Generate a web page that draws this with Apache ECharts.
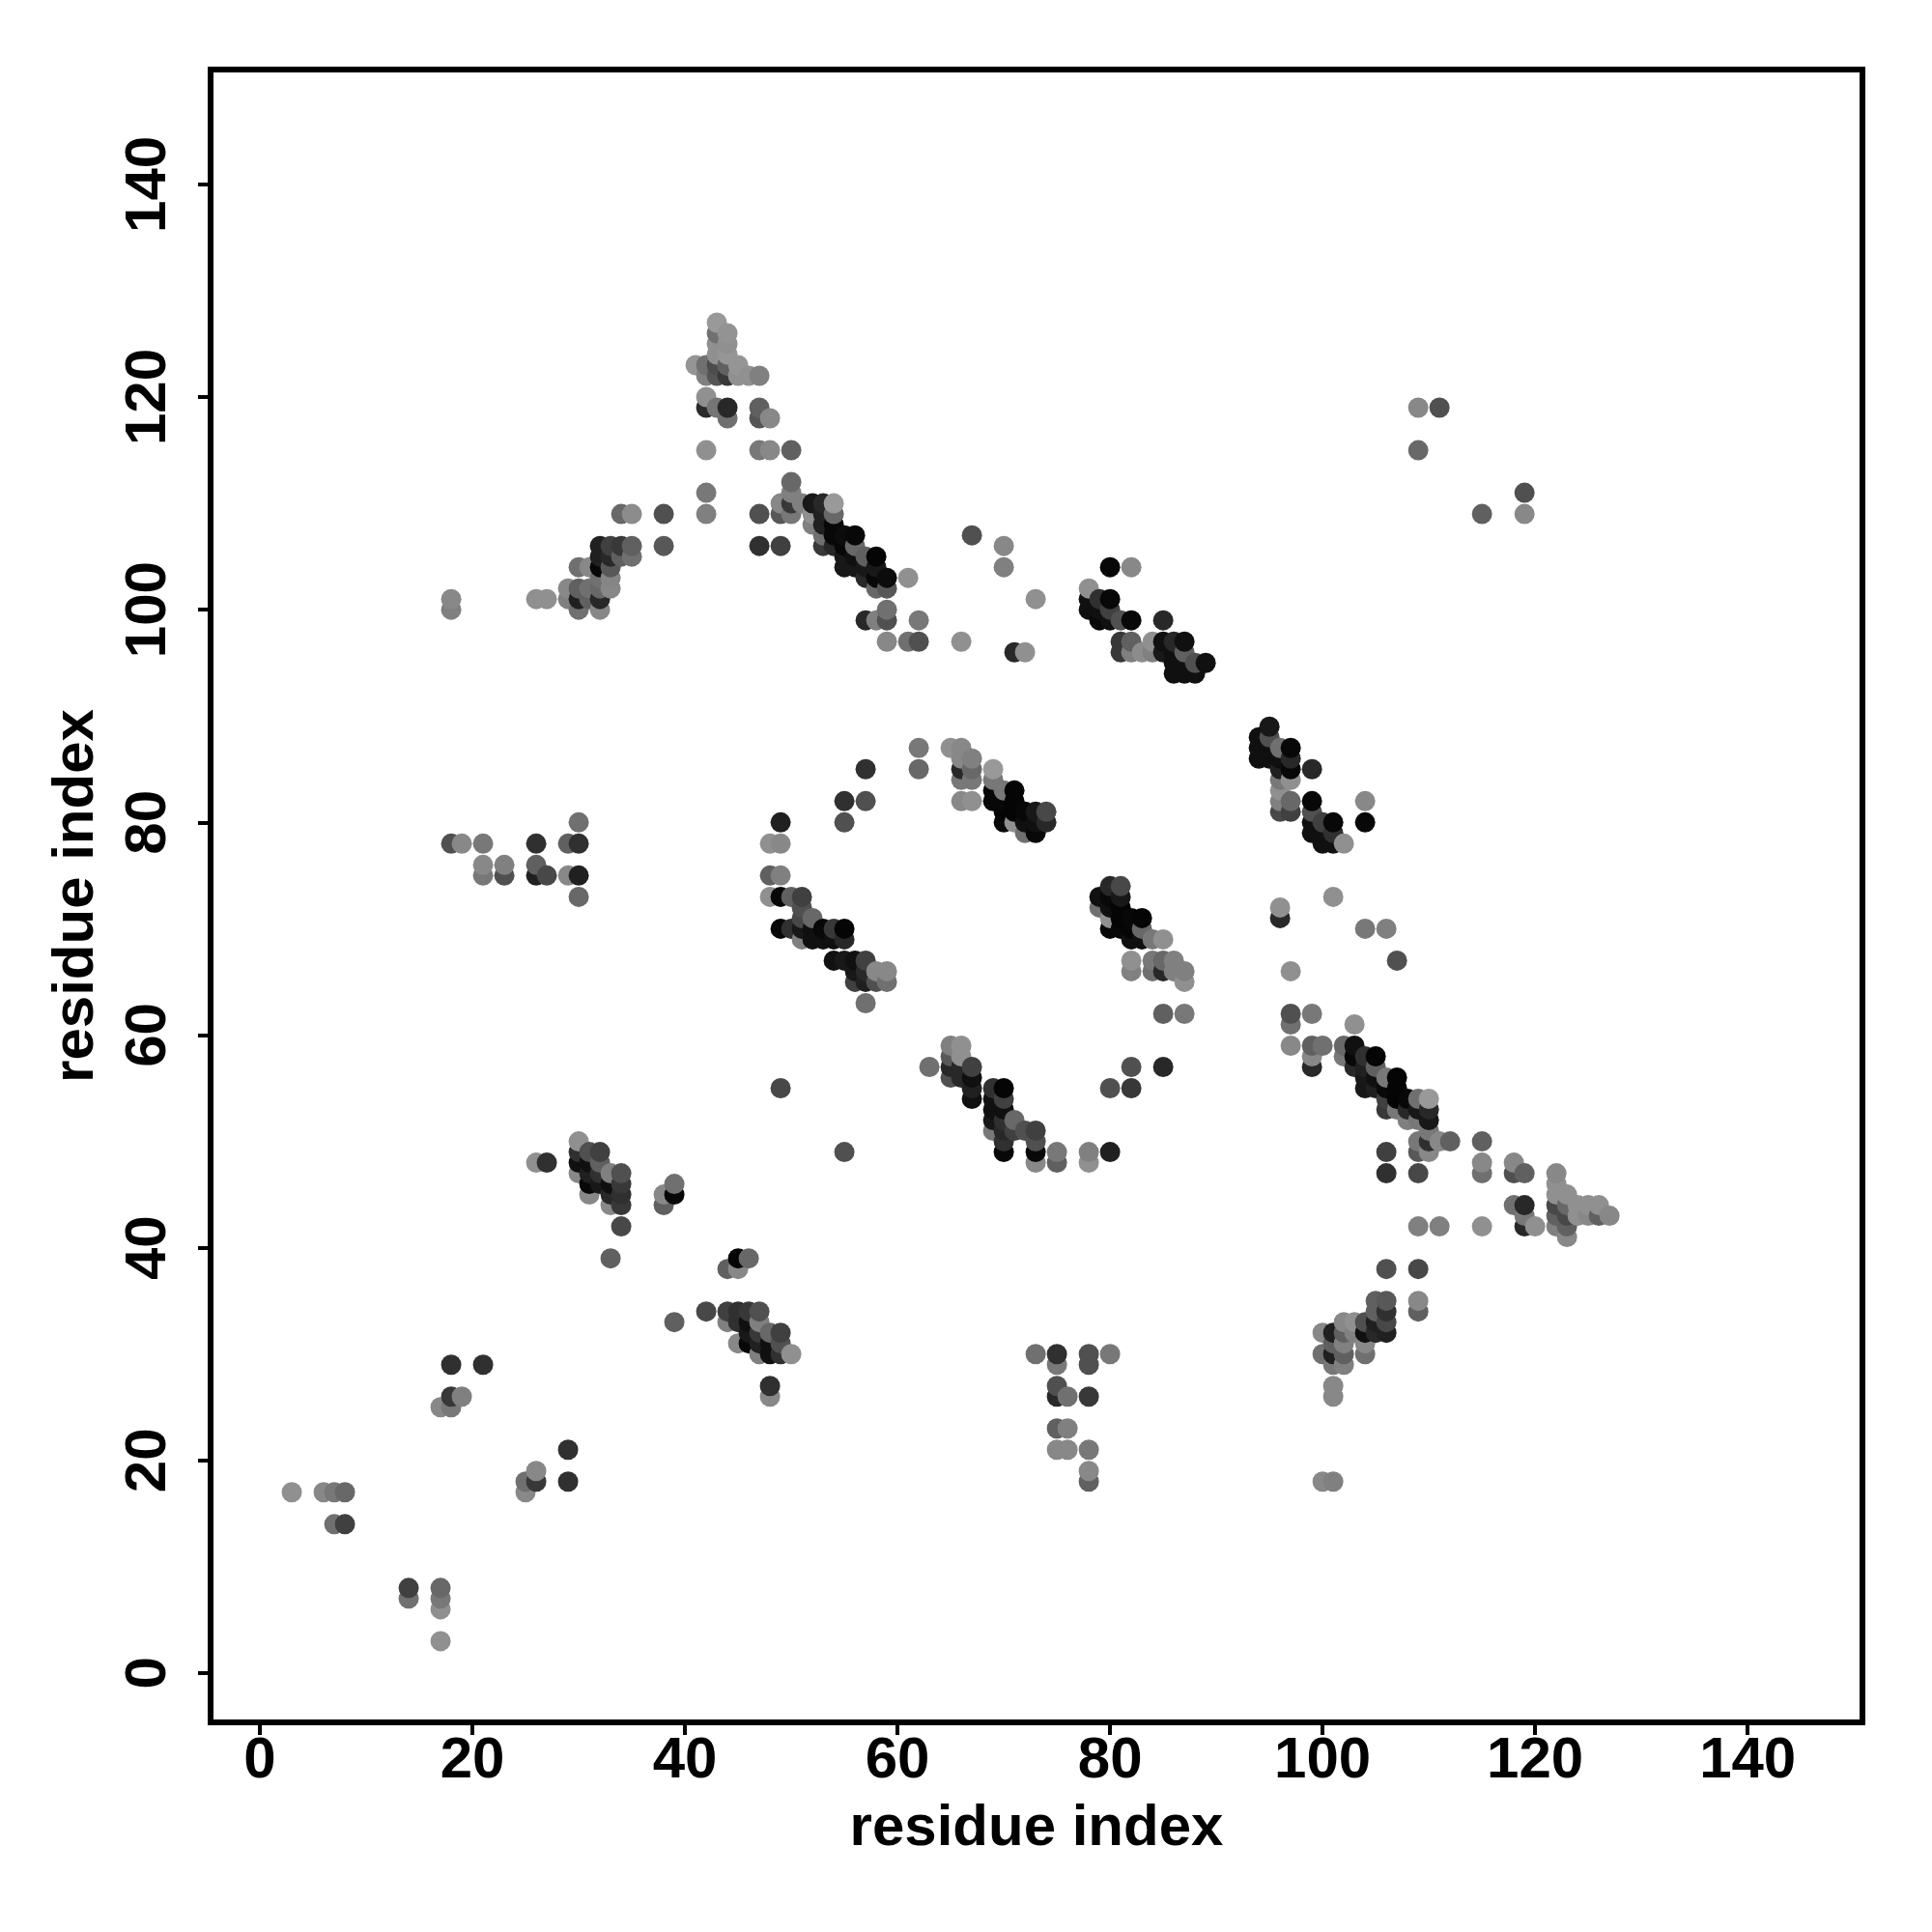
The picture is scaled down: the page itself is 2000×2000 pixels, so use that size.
<!DOCTYPE html>
<html>
<head>
<meta charset="utf-8">
<style>html,body{margin:0;padding:0;background:#fff}#c{width:2000px;height:2000px}</style>
<script src="https://cdn.jsdelivr.net/npm/echarts@6/dist/echarts.min.js"></script>
</head>
<body>
<div id="c"></div>
<script>
// each contact: [residue i, residue j, shade]
const topApex = [[43,127,0x99],[44,126,0x93],[43,126,0x70],[44,125,0x90],[43,125,0x90],[44,124,0x96],[43,124,0x90],[44,123,0x90],
[45,123,0x95],[41,123,0x95],[42,123,0x70],[43,123,0x4c],[44,123,0x60],[42,122,0x80],[43,122,0x55],[44,122,0x38],[45,122,0x90],[46,122,0x90],[47,122,0x80],
[42,120,0x90],[42,119,0x2a],[43,119,0x75],[44,119,0x28],[44,118,0x70],[47,119,0x60],[47,118,0x55],[48,118,0x88],[42,115,0x90],[47,115,0x78],[48,115,0x88],[50,115,0x60],[42,111,0x78],[42,109,0x80]];
const diagA = [[50,112,0x68],[50,111,0x80],[49,110,0x88],[50,110,0x38],[51,110,0x80],[52,110,0x18],[53,110,0x28],[54,110,0x99],[54,109,0x68],[49,109,0x58],[50,109,0x78],[47,109,0x50],
[52,109,0x90],[53,109,0x20],[52,108,0x80],[53,108,0x20],[54,108,0x08],[53,107,0x70],[54,107,0x08],[55,107,0x0c],[56,107,0x08],[53,106,0x38],[54,106,0x28],[55,106,0x08],[56,106,0x68],
[47,106,0x30],[49,106,0x40],[55,105,0x18],[56,105,0x10],[57,105,0x60],[58,105,0x05],[55,104,0x18],[56,104,0x18],[57,104,0x18],[58,104,0x18],[57,103,0x28],[58,103,0x08],[59,103,0x0c],[61,103,0x90],
[58,102,0x68],[59,102,0x58],[59,100,0x70],[59,99,0x50],[58,99,0x80],[57,99,0x28],[62,99,0x78],[59,97,0x88],[61,97,0x70],[62,97,0x50]];
const leftUpper = [[38,109,0x50],[34,109,0x68],[35,109,0x8c],[38,106,0x58],[32,106,0x20],[33,106,0x40],[34,106,0x38],[35,106,0x60],[32,105,0x20],[33,105,0x28],[34,105,0x60],[35,105,0x70],
[30,104,0x70],[31,104,0x88],[32,104,0x08],[33,104,0x58],[32,103,0x70],[33,103,0x85],[33,102,0x88],[32,102,0x68],[31,102,0x70],[30,102,0x60],[29,102,0x88],[29,101,0x80],[30,101,0x20],[31,101,0x60],[32,101,0x28],
[30,100,0x70],[32,100,0x88],[26,101,0x90],[27,101,0x90],[18,101,0x88],[18,100,0x80]];
const midUpper = [[67,107,0x50],[70,106,0x88],[70,104,0x80],[73,101,0x90],[66,97,0x90],[71,96,0x28],[72,96,0x90]];
const diagB = [[80,104,0x08],[82,104,0x88],[78,102,0x90],[78,101,0x10],[79,101,0x30],[80,101,0x08],[78,100,0x10],[79,100,0x10],[80,100,0x40],[79,99,0x08],[80,99,0x10],[81,99,0x50],[82,99,0x08],[85,99,0x28],
[81,97,0x38],[82,97,0x60],[84,97,0x90],[85,97,0x10],[86,97,0x28],[87,97,0x10],[81,96,0x38],[82,96,0x80],[83,96,0x8c],[84,96,0x80],[85,96,0x18],[86,96,0x10],[87,96,0x60],
[86,95,0x10],[87,95,0x10],[88,95,0x50],[89,95,0x10],[86,94,0x10],[87,94,0x10],[88,94,0x10]];
const leftMiddle = [[18,78,0x50],[19,78,0x88],[21,78,0x78],[21,76,0x88],[21,75,0x78],[23,76,0x80],[23,75,0x50],[26,78,0x30],[26,76,0x60],[26,75,0x20],[27,75,0x48],[29,78,0x60],[30,78,0x30],[29,75,0x88],[30,75,0x20],[30,73,0x68],[30,80,0x70]];
const diagC = [[62,87,0x78],[62,85,0x68],[57,85,0x30],[55,82,0x30],[57,82,0x50],[55,80,0x50],[49,80,0x20],[48,78,0x90],[49,78,0x88],[48,75,0x60],[49,75,0x80],[48,73,0x90],[49,73,0x08],[50,73,0x60],[51,73,0x40],
[51,72,0x50],[51,71,0x48],[52,71,0x68],[49,70,0x08],[50,70,0x30],[51,70,0x18],[52,70,0x10],[53,70,0x08],[54,70,0x38],[55,70,0x05],[51,69,0x80],[52,69,0x10],[53,69,0x10],[54,69,0x10],[55,69,0x28],
[54,67,0x10],[55,67,0x18],[56,67,0x10],[57,67,0x40],[56,66,0x18],[57,66,0x28],[58,66,0x88],[59,66,0x88],[56,65,0x40],[57,65,0x20],[58,65,0x50],[59,65,0x70],[57,63,0x70]];
const diagD = [[65,87,0x90],[66,87,0x88],[66,86,0x88],[67,86,0x80],[66,85,0x28],[67,85,0x68],[69,85,0x99],[66,84,0x78],[67,84,0x78],[69,84,0x78],[69,83,0x08],[70,83,0x78],[71,83,0x05],
[66,82,0x88],[67,82,0x90],[69,82,0x08],[70,82,0x08],[71,82,0x05],[70,81,0x05],[71,81,0x05],[72,81,0x08],[73,81,0x18],[74,81,0x48],[70,80,0x08],[71,80,0x90],[72,80,0x10],[73,80,0x10],[74,80,0x28],[72,79,0x70],[73,79,0x08]];
const diagE = [[80,74,0x28],[81,74,0x48],[79,73,0x10],[80,73,0x08],[81,73,0x18],[79,72,0x70],[80,72,0x10],[81,72,0x05],[80,71,0x90],[81,71,0x05],[82,71,0x08],[83,71,0x05],[80,70,0x08],[81,70,0x08],[82,70,0x05],[83,70,0x68],
[82,69,0x10],[83,69,0x10],[84,69,0x78],[85,69,0x90],[82,67,0x90],[84,67,0x78],[85,67,0x68],[86,67,0x80],[82,66,0x80],[84,66,0x70],[85,66,0x28],[86,66,0x80],[87,66,0x80],[87,65,0x90],[85,62,0x60],[87,62,0x78]];
const diagF = [[63,57,0x70],[65,59,0x80],[66,59,0x90],[65,58,0x58],[66,58,0x90],[65,57,0x28],[66,57,0x28],[67,57,0x40],[65,56,0x50],[66,56,0x28],[67,56,0x10],[67,55,0x20],[67,54,0x10],[69,55,0x30],[70,55,0x05],[69,54,0x10],[70,54,0x40],
[69,53,0x10],[70,53,0x10],[69,52,0x18],[70,52,0x30],[71,52,0x68],[69,51,0x78],[70,51,0x28],[71,51,0x40],[72,51,0x50],[73,51,0x40],[70,50,0x30],[73,50,0x50],[70,49,0x08],[73,49,0x08],[75,49,0x78],[78,49,0x80],[80,49,0x20],
[73,48,0x88],[75,48,0x60],[78,48,0x90],[82,57,0x50],[85,57,0x28],[80,55,0x50],[82,55,0x38],[55,49,0x50],[49,55,0x48]];
const diagG = [[95,89,0x18],[94,88,0x10],[95,88,0x50],[94,87,0x10],[95,87,0x10],[96,87,0x70],[97,87,0x08],[94,86,0x10],[95,86,0x10],[96,86,0x10],[97,86,0x28],[96,85,0x20],[97,85,0x08],[99,85,0x28],[96,84,0x78],[97,84,0x90],[96,83,0x90],
[96,82,0x80],[97,82,0x68],[99,82,0x08],[96,81,0x48],[97,81,0x40],[99,81,0x50],[99,80,0x10],[100,80,0x40],[101,80,0x08],[99,79,0x10],[100,79,0x10],[101,79,0x30],[100,78,0x10],[101,78,0x10],[102,78,0x90],[104,82,0x88],[104,80,0x08]];
const diagH = [[96,72,0x90],[96,71,0x28],[101,73,0x90],[104,70,0x78],[106,70,0x80],[107,67,0x50],[97,66,0x90],[97,62,0x50],[99,62,0x78],[97,61,0x70],[103,61,0x90],[97,59,0x88],[99,59,0x60],[100,59,0x70],[102,59,0x68],[103,59,0x10],
[99,58,0x88],[102,58,0x78],[103,58,0x08],[104,58,0x30],[105,58,0x05],[99,57,0x28],[103,57,0x28],[104,57,0x20],[105,57,0x60],[104,56,0x18],[105,56,0x10],[106,56,0x78],[107,56,0x05],[104,55,0x18],[105,55,0x20],[106,55,0x08],[107,55,0x05],
[106,54,0x40],[107,54,0x05],[108,54,0x08],[109,54,0x70],[110,54,0x99],[106,53,0x38],[107,53,0x78],[108,53,0x28],[109,53,0x18],[110,53,0x28],[108,52,0x80],[109,52,0x78],[110,52,0x18],[110,51,0x78],
[109,50,0x78],[110,50,0x30],[111,50,0x88],[112,50,0x60],[115,50,0x60],[106,49,0x40],[109,49,0x58],[110,49,0x88],[115,48,0x88],[118,48,0x88],[106,47,0x30],[109,47,0x48],[115,47,0x70],[118,47,0x50],[119,47,0x60]];
const rightTip = [[122,47,0x88],[122,46,0x90],[122,45,0x90],[123,45,0x90],[118,44,0x70],[119,44,0x28],[122,44,0x48],[123,44,0x68],[124,44,0x90],[125,44,0x90],[126,44,0x90],[119,43,0x78],[122,43,0x60],[123,43,0x48],[124,43,0x90],[125,43,0x88],[126,43,0x60],[127,43,0x88],
[109,42,0x80],[111,42,0x80],[115,42,0x90],[119,42,0x28],[120,42,0x90],[122,42,0x80],[123,42,0x60],[123,41,0x88]];
const lowerRight = [[106,38,0x50],[109,38,0x48],[105,35,0x60],[106,35,0x58],[109,35,0x88],[109,34,0x60],[105,34,0x60],[106,34,0x30],[104,33,0x50],[105,33,0x20],[106,33,0x48],[102,33,0x88],[103,33,0x90],
[100,32,0x88],[101,32,0x20],[102,32,0x60],[103,32,0x80],[104,32,0x10],[105,32,0x28],[106,32,0x20],[101,31,0x60],[102,31,0x80],[104,31,0x88],[100,30,0x70],[101,30,0x20],[102,30,0x60],[104,30,0x70],[101,29,0x78],[102,29,0x80],[101,27,0x88],[101,26,0x88],[100,18,0x88],[101,18,0x80]];
const lowerLeftA = [[39,46,0x70],[38,45,0x88],[39,45,0x08],[38,44,0x60],[33,39,0x60],[34,42,0x48],[26,48,0x90],[27,48,0x30],[30,50,0x90],[30,49,0x30],[31,49,0x50],[32,49,0x40],[30,48,0x10],[31,48,0x10],[32,48,0x60],
[30,47,0x88],[31,47,0x20],[32,47,0x30],[33,47,0x80],[34,47,0x50],[31,46,0x08],[32,46,0x18],[33,46,0x10],[34,46,0x38],[31,45,0x88],[33,45,0x28],[34,45,0x30],[33,44,0x88],[34,44,0x38]];
const lowerLeftB = [[45,39,0x05],[46,39,0x68],[44,38,0x60],[45,38,0x88],[39,33,0x60],[42,34,0x48],[44,34,0x40],[45,34,0x30],[46,34,0x38],[47,34,0x50],[44,33,0x80],[45,33,0x30],[46,33,0x10],[47,33,0x80],
[46,32,0x18],[47,32,0x38],[48,32,0x68],[49,32,0x40],[45,31,0x88],[46,31,0x08],[47,31,0x20],[48,31,0x10],[49,31,0x50],[47,30,0x80],[48,30,0x10],[49,30,0x30],[50,30,0x90],[48,27,0x30],[48,26,0x88]];
const cornerLow = [[18,29,0x30],[21,29,0x30],[18,26,0x38],[19,26,0x80],[17,25,0x88],[18,25,0x78],[29,21,0x30],[29,18,0x30],[26,19,0x88],[25,18,0x70],[26,18,0x38],[25,17,0x88],[3,17,0x90],[6,17,0x88],[7,17,0x78],[8,17,0x68],[7,14,0x70],[8,14,0x40],
[14,8,0x40],[14,7,0x70],[17,8,0x68],[17,7,0x78],[17,6,0x90],[17,3,0x90]];
const lowerMiddle = [[73,30,0x70],[75,30,0x30],[75,29,0x78],[78,30,0x50],[78,29,0x50],[80,30,0x78],[75,27,0x50],[75,26,0x28],[76,26,0x70],[78,26,0x38],[75,23,0x60],[76,23,0x80],[75,21,0x88],[76,21,0x88],[78,21,0x78],[78,19,0x88],[78,18,0x60]];
const farUpper = [[115,109,0x60],[119,109,0x88],[119,111,0x50],[109,119,0x88],[111,119,0x50],[109,115,0x68]];
const tickValues = [0,20,40,60,80,100,120,140];
const axisTitle = 'residue index';

const contacts = [].concat(topApex,diagA,leftUpper,midUpper,diagB,leftMiddle,diagC,diagD,diagE,diagF,diagG,diagH,rightTip,lowerRight,lowerLeftA,lowerLeftB,cornerLow,lowerMiddle,farUpper)
  .sort((a,b)=>a[0]-b[0]||a[1]-b[1]);

const font = 'Liberation Sans';
const axisBase = {
  type:'value', scale:false, min:-4.64, max:150.8, splitLine:{show:false},
  axisLine:{show:true,onZero:false,lineStyle:{color:'#000',width:6}},
  axisTick:{show:true,customValues:tickValues,length:13,inside:false,lineStyle:{color:'#000',width:4}},
  axisLabel:{show:true,customValues:tickValues,showMinLabel:true,showMaxLabel:true,color:'#000',fontFamily:font,fontWeight:'bold',fontSize:60},
  name:axisTitle,nameLocation:'middle',
  nameTextStyle:{color:'#000',fontFamily:font,fontWeight:'bold',fontSize:60}
};
const chart = echarts.init(document.getElementById('c'),null,{renderer:'canvas'});
chart.setOption({
  animation:false,
  backgroundColor:'#fff',
  grid:{left:218,right:72,top:72,bottom:217,show:true,borderColor:'#000',borderWidth:6,backgroundColor:'transparent'},
  xAxis:Object.assign({},axisBase,{nameGap:80,axisLabel:Object.assign({},axisBase.axisLabel,{margin:10})}),
  yAxis:Object.assign({},axisBase,{nameGap:109,nameRotate:90,axisLabel:Object.assign({},axisBase.axisLabel,{rotate:90,margin:34})}),
  visualMap:{show:false,type:'continuous',dimension:2,min:0,max:153,inRange:{color:['#000000','#999999']}},
  series:[{type:'scatter',symbol:'circle',symbolSize:21,data:contacts,silent:true,itemStyle:{opacity:1},progressive:0}]
});
</script>
</body>
</html>
